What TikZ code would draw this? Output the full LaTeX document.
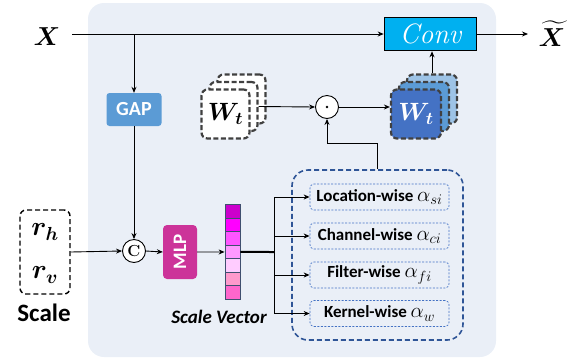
\RequirePackage{fix-cm}
\documentclass[tikz,border=0pt]{standalone}
\usepackage{amsmath,bm}
\usepackage{fontspec}
\setsansfont{Carlito}
\usetikzlibrary{arrows.meta,calc}
\definecolor{panel}{HTML}{EAEFF7}
\definecolor{gapc}{HTML}{5B9BD5}
\definecolor{mlpc}{HTML}{CC3399}
\definecolor{convc}{HTML}{00B0F0}
\definecolor{dblue}{HTML}{2F5597}
\definecolor{iblue}{HTML}{4472C4}
\definecolor{sgray}{HTML}{404040}
\definecolor{vbord}{HTML}{3F4F6F}
\definecolor{wfront}{HTML}{4472C4}
\definecolor{wmid}{HTML}{5B9BD5}
\definecolor{wback}{HTML}{9DC3E6}
\newcommand{\alf}[1]{{\fontsize{21}{21}\selectfont$\alpha_{#1}$}}
\tikzset{
  arr/.style={-{Stealth[length=6pt,width=5pt]},line width=0.9pt},
  ln/.style={line width=0.9pt},
  gapbox/.style={fill=gapc,rounded corners=3pt,minimum width=55pt,minimum height=33pt,inner sep=0,text=white,font=\sffamily\bfseries\fontsize{20}{20}\selectfont},
  mlpbox/.style={fill=mlpc,rounded corners=4pt,minimum width=34pt,minimum height=54pt,inner sep=0},
  circ/.style={circle,draw,line width=0.9pt,minimum size=23pt,inner sep=0,fill=white},
  wsq/.style={draw=sgray,dashed,dash pattern=on 5pt off 2.5pt,line width=2.2pt,rounded corners=6pt,minimum width=48pt,minimum height=49pt,inner sep=0},
  cell/.style={draw=vbord,line width=0.8pt,minimum width=15pt,minimum height=13.5pt,inner sep=0},
  ibox/.style={draw=iblue,dashed,dash pattern=on 2pt off 1.5pt,line width=0.7pt,rounded corners=4pt,minimum width=139pt,minimum height=26pt,inner sep=0,font=\sffamily\bfseries\fontsize{17}{17}\selectfont},
}
\begin{document}
\begin{tikzpicture}[x=1pt,y=-1pt]
\useasboundingbox (0,0) rectangle (576,360);
% panel
\fill[panel,rounded corners=16pt] (88,3) rectangle (496,357);
% X input
\node (X) at (47,37) {\fontsize{26}{26}\selectfont$\bm{X}$};
\coordinate (xin) at (72,34);
\coordinate (split) at (134,34);
% Conv
\node[fill=convc,draw=black,line width=1.6pt,minimum width=92pt,minimum height=33pt,inner sep=0,text=white] (conv) at (430.5,34) {\fontsize{28}{28}\selectfont$\mathit{Conv}$};
\coordinate (xout) at (528,34);
\node (Xt) at (552,34) {\fontsize{26}{26}\selectfont$\widetilde{\bm{X}}$};
\draw[arr] (xin) -- (conv.west);
\draw[arr] (conv.east) -- (xout);
% GAP
\node[gapbox] (gap) at (134,109.5) {GAP};
\draw[arr] (split) -- (gap.north);
% concat circle
\node[circ] (cc) at (134,251) {\fontsize{16}{16}\selectfont\textbf{C}};
\draw[arr] (gap.south) -- (cc.north);
% scale box
\node[draw,dashed,dash pattern=on 5pt off 3pt,line width=1.4pt,rounded corners=6pt,minimum width=50pt,minimum height=84pt,inner sep=0] (scale) at (45,252) {};
\node (rh) at (45,232) {\fontsize{27}{27}\selectfont$\bm{r_h}$};
\node (rv) at (45,275) {\fontsize{27}{27}\selectfont$\bm{r_v}$};
\node[font=\sffamily\bfseries\fontsize{25}{25}\selectfont] (scalelab) at (44,313) {Scale};
\draw[arr] (scale.east) -- (cc.west);
% MLP
\node[mlpbox] (mlp) at (180,252) {};
\node[rotate=90,text=white,font=\sffamily\bfseries\fontsize{19}{19}\selectfont] (mlptext) at (mlp.center) {MLP};
\draw[arr] (cc.east) -- (mlp.west);
% scale vector
\foreach \i/\c in {1/CC00CC,2/FF00FF,3/FF55FF,4/FF99FF,5/FFCCFF,6/FF99CC,7/FF66CC}{
  \definecolor{tmpc}{HTML}{\c}
  \node[cell,fill=tmpc] (v\i) at (232.5,{204.7+13.5*(\i-0.5)}) {};
}
\node[font=\sffamily\bfseries\itshape\fontsize{19}{19}\selectfont] (svlab) at (219,317) {Scale Vector};
\draw[arr] (mlp.east) -- (v4.west);
\coordinate (bus) at (274,252);
\coordinate (bustop) at (274,197);
\coordinate (busbot) at (274,313.5);
\draw[line width=2pt] (v4.east) -- (bus);
\draw[ln] (bustop) -- (busbot);
% big dashed box
\node[draw=dblue,dashed,dash pattern=on 5pt off 3pt,line width=1.6pt,rounded corners=16pt,minimum width=171pt,minimum height=170pt,inner sep=0] (big) at (377.5,255) {};
\node[ibox] (loc) at (379.5,197) {Location-wise \alf{si}};
\node[ibox] (chn) at (379.5,236) {Channel-wise \alf{ci}};
\node[ibox] (fil) at (379.5,275) {Filter-wise \alf{fi}};
\node[ibox] (ker) at (379.5,313.5) {Kernel-wise \alf{w}};
\draw[arr] (bustop) -- (loc.west);
\draw[arr] (bustop |- chn.west) -- (chn.west);
\draw[arr] (bustop |- fil.west) -- (fil.west);
\draw[arr] (busbot) -- (ker.west);
% odot
\node[circ,minimum size=23pt] (od) at (327,107) {};
\fill (od.center) circle (1.4pt);
\draw[arr] (big.north) -- ++(0,-26) -| (od.south);
% left W stack
\node[wsq,fill=white] (lb) at (241.5,99) {};
\node[wsq,fill=white] (lm) at (233.5,106.5) {};
\node[wsq,fill=white] (lf) at (225.5,114) {\fontsize{25}{25}\selectfont$\bm{W_t}$};
% right W stack
\node[wsq,fill=wback,minimum width=50pt] (rb) at (432,99) {};
\node[wsq,fill=wmid,minimum width=50pt] (rm) at (424,106.5) {};
\node[wsq,fill=wfront,minimum width=50pt,text=white] (rf) at (416,114) {\fontsize{25}{25}\selectfont$\bm{W_t}$};
\draw[arr] (lm.east) -- (od.west);
\draw[arr] (od.east) -- (od.east -| rf.west);
\draw[arr] (rb.north) -- (rb.north |- conv.south);
\end{tikzpicture}
\end{document}
